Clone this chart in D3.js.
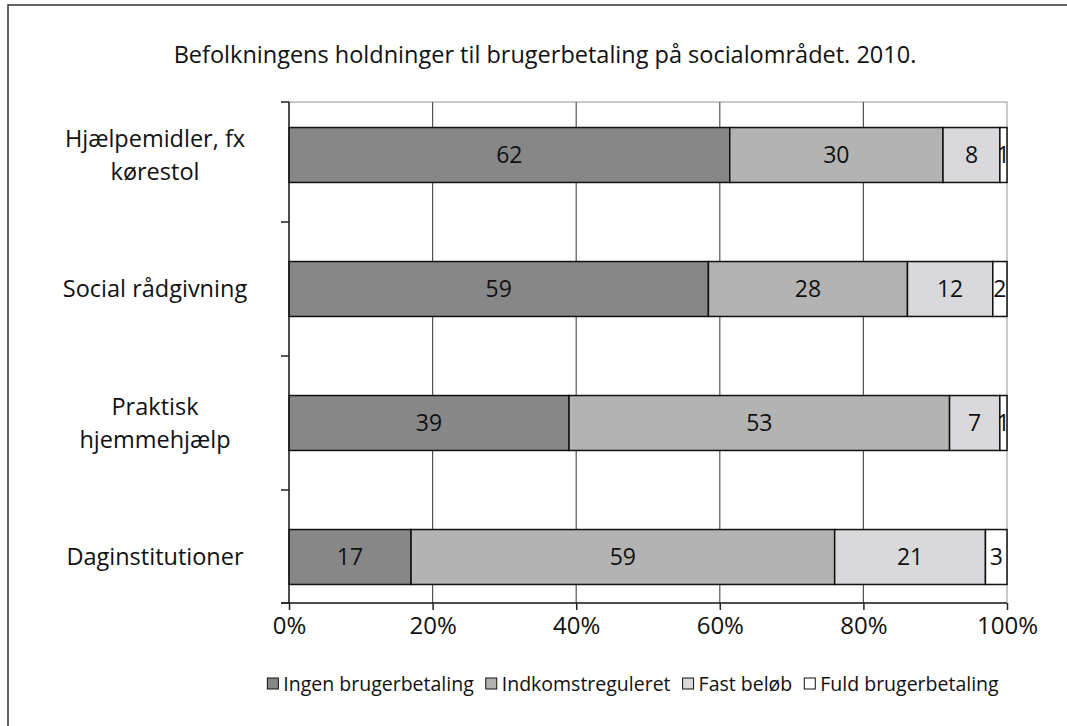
<!DOCTYPE html>
<html>
<head>
<meta charset="utf-8">
<script src="https://cdn.jsdelivr.net/npm/d3@7"></script>
<style>
    body { margin: 0; background: #fff; }
    svg text { font-family: "Open Sans", sans-serif; fill: #111; }
</style>
</head>
<body>
<div id="chart"></div>
<script>
var categories = ["Hjælpemidler, fx|kørestol", "Social rådgivning", "Praktisk|hjemmehjælp", "Daginstitutioner"];
var series = ["Ingen brugerbetaling", "Indkomstreguleret", "Fast beløb", "Fuld brugerbetaling"];
var ingen = [62, 59, 39, 17];
var indkomst = [30, 28, 53, 59];
var fast = [8, 12, 7, 21];
var fuld = [1, 2, 1, 3];
var x_ticks = [0, 0.2, 0.4, 0.6, 0.8, 1];
var title = "Befolkningens holdninger til brugerbetaling på socialområdet. 2010.";

var colors = ["#878787", "#b3b3b3", "#d9d9db", "#ffffff"];

function build_rows(){
    var rows = [];
    for(var i = 0; i < categories.length; i++){
        var row = {cat: categories[i]};
        row[series[0]] = ingen[i];
        row[series[1]] = indkomst[i];
        row[series[2]] = fast[i];
        row[series[3]] = fuld[i];
        rows.push(row);
    }
    return rows;
}

function render(id_name){
    var width = 1067, height = 726;
    var plot = {left: 289, right: 1007, top: 102, bottom: 603};

    var svg = d3.select(id_name).append("svg")
        .attr("width", width)
        .attr("height", height);

    // outer frame (only left and top edges show)
    svg.append("path")
        .attr("d", "M8," + height + "V5H" + width)
        .attr("fill", "none")
        .attr("stroke", "#333")
        .attr("stroke-width", 1.5);

    svg.append("text")
        .attr("x", 545)
        .attr("y", 63)
        .attr("text-anchor", "middle")
        .style("font-size", "23.5px")
        .text(title);

    var rows = build_rows();
    var stacked = d3.stack().keys(series).offset(d3.stackOffsetExpand)(rows);

    var x = d3.scaleLinear().domain([0, 1]).range([plot.left, plot.right]);
    var y = d3.scaleBand().domain(categories).range([88, 624]).paddingInner(0.59).paddingOuter(0.295);

    // plot border, light gray
    svg.append("rect")
        .attr("x", plot.left)
        .attr("y", plot.top)
        .attr("width", plot.right - plot.left)
        .attr("height", plot.bottom - plot.top)
        .attr("fill", "none")
        .attr("stroke", "#a6a6a6")
        .attr("stroke-width", 1.2);

    // vertical gridlines
    svg.selectAll(".grid")
        .data(x_ticks.slice(1, -1))
        .enter()
        .append("line")
            .attr("class", "grid")
            .attr("x1", function(d){ return x(d); })
            .attr("x2", function(d){ return x(d); })
            .attr("y1", plot.top)
            .attr("y2", plot.bottom)
            .attr("stroke", "#555")
            .attr("stroke-width", 1.2);

    var groups = svg.selectAll(".layer")
        .data(stacked)
        .enter()
        .append("g")
            .attr("class", "layer")
            .attr("fill", function(d, i){ return colors[i]; });

    groups.selectAll("rect")
        .data(function(d){ return d; })
        .enter()
        .append("rect")
            .attr("x", function(d){ return x(d[0]); })
            .attr("y", function(d){ return y(d.data.cat); })
            .attr("width", function(d){ return x(d[1]) - x(d[0]); })
            .attr("height", y.bandwidth())
            .attr("stroke", "#111")
            .attr("stroke-width", 1.5);

    groups.selectAll("text")
        .data(function(d){ return d.map(function(p){ p.key = d.key; return p; }); })
        .enter()
        .append("text")
            .attr("x", function(d){ return (x(d[0]) + x(d[1])) / 2; })
            .attr("y", function(d){ return y(d.data.cat) + y.bandwidth() / 2 + 8; })
            .attr("text-anchor", "middle")
            .style("font-size", "23px")
            .text(function(d){ return d.data[d.key]; });

    // left axis line and ticks
    var y_ticks = [plot.top];
    for(var i = 1; i < categories.length; i++){
        y_ticks.push(y(categories[i]) - y.step() * y.paddingInner() / 2);
    }
    y_ticks.push(plot.bottom);

    svg.append("line")
        .attr("x1", plot.left).attr("x2", plot.left)
        .attr("y1", plot.top).attr("y2", plot.bottom)
        .attr("stroke", "#222").attr("stroke-width", 1.5);

    svg.selectAll(".ytick")
        .data(y_ticks)
        .enter()
        .append("line")
            .attr("class", "ytick")
            .attr("x1", plot.left - 8).attr("x2", plot.left)
            .attr("y1", function(d){ return d; })
            .attr("y2", function(d){ return d; })
            .attr("stroke", "#222").attr("stroke-width", 1.5);

    // category labels, centred, one or two lines
    var label_x = 155;
    categories.forEach(function(c){
        var lines = c.split("|");
        var cy = y(c) + y.bandwidth() / 2;
        var t = svg.append("text")
            .attr("text-anchor", "middle")
            .style("font-size", "23.5px");
        lines.forEach(function(l, j){
            t.append("tspan")
                .attr("x", label_x)
                .attr("y", cy + 8 + (j - (lines.length - 1) / 2) * 33)
                .text(l);
        });
    });

    // bottom axis
    var x_axis = svg.append("g")
        .attr("transform", "translate(0," + plot.bottom + ")")
        .call(d3.axisBottom(x).tickValues(x_ticks).tickFormat(d3.format(".0%")).tickSize(7).tickSizeOuter(0).tickPadding(7));
    x_axis.select(".domain").remove();
    x_axis.selectAll(".tick line").attr("stroke", "#222").attr("stroke-width", 1.5);
    x_axis.selectAll(".tick text")
        .style("font-size", "24px")
        .style("font-family", "\"Open Sans\", sans-serif")
        .attr("fill", "#111");
    svg.append("line")
        .attr("x1", plot.left - 8).attr("x2", plot.right)
        .attr("y1", plot.bottom).attr("y2", plot.bottom)
        .attr("stroke", "#222").attr("stroke-width", 1.5);

    // legend
    var legend = svg.append("g");
    var lx = 0;
    series.forEach(function(s, i){
        legend.append("rect")
            .attr("x", lx).attr("y", -6)
            .attr("width", 11).attr("height", 11)
            .attr("fill", colors[i])
            .attr("stroke", "#111").attr("stroke-width", 1);
        var t = legend.append("text")
            .attr("x", lx + 16)
            .attr("y", 7)
            .style("font-size", "19.5px")
            .text(s);
        lx += 16 + t.node().getComputedTextLength() + 12;
    });
    var legend_w = lx - 12;
    legend.attr("transform", "translate(" + (633 - legend_w / 2) + ",684)");
}

render("#chart");
</script>
</body>
</html>
